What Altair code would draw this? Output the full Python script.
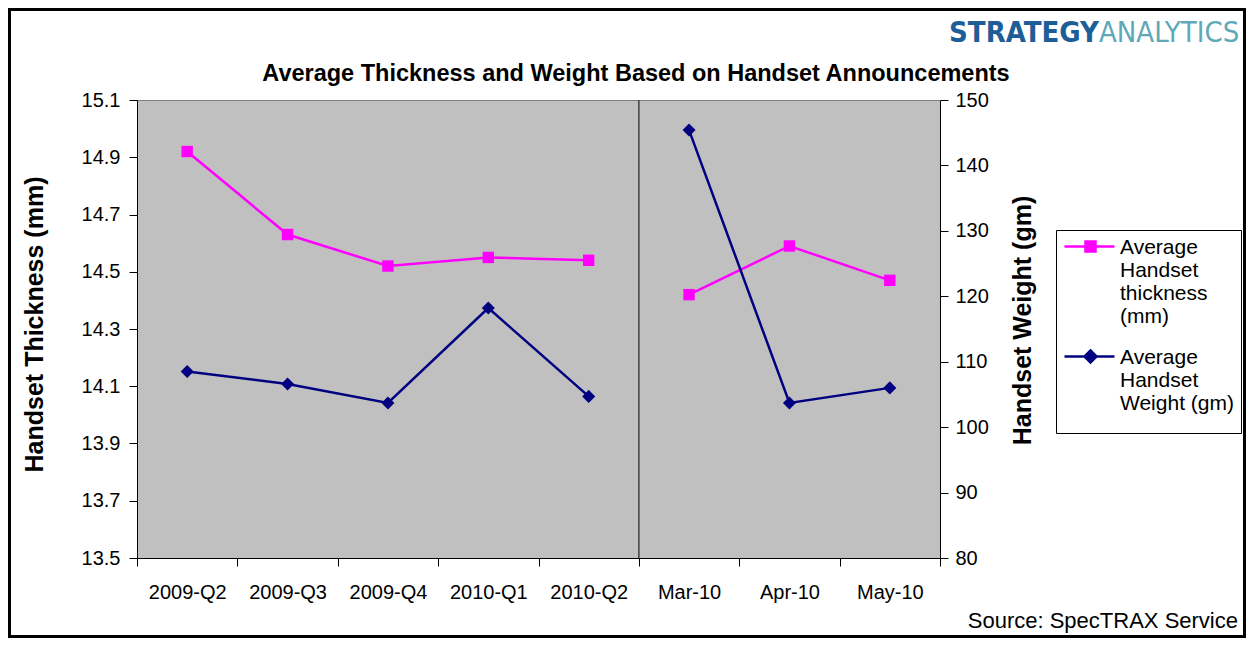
import altair as alt
import pandas as pd

# ---------------- data ----------------
categories = ["2009-Q2", "2009-Q3", "2009-Q4", "2010-Q1", "2010-Q2", "Mar-10", "Apr-10", "May-10"]
periods = ["quarter", "quarter", "quarter", "quarter", "quarter", "month", "month", "month"]
thickness = [14.92, 14.63, 14.52, 14.55, 14.54, 14.42, 14.59, 14.47]
weight = [108.5, 106.6, 103.7, 118.2, 104.7, 145.4, 103.7, 106.0]
series_names = ["Average Handset thickness (mm)", "Average Handset Weight (gm)"]
series_colors = ["#FF00FF", "#000080"]
left_ticks = [13.5, 13.7, 13.9, 14.1, 14.3, 14.5, 14.7, 14.9, 15.1]
right_ticks = [80, 90, 100, 110, 120, 130, 140, 150]
left_title = "Handset Thickness (mm)"
right_title = "Handset Weight (gm)"
chart_title = "Average Thickness and Weight Based on Handset Announcements"
source_text = "Source: SpecTRAX Service"
logo_parts = ["STRATEGY", "ANALYTICS"]
logo_colors = ["#1E5E98", "#5FA8B8"]

FONT = "Arial, Liberation Sans, sans-serif"
NARROW = "Liberation Sans Narrow, Arial Narrow, DejaVu Sans Condensed, sans-serif"
W, H = 803, 458

df_t = pd.DataFrame({"cat": categories, "value": thickness, "period": periods})
df_w = pd.DataFrame({"cat": categories, "value": weight, "period": periods})
df_leg = pd.DataFrame({"series": series_names})

xscale = alt.Scale(type="band", domain=categories, paddingInner=0, paddingOuter=0)
x_axis = alt.Axis(title=None, tickBand="extent", bandPosition=0.5, labelAngle=0,
                  labelAlign="center", labelFontSize=20,
                  labelFont=FONT, labelColor="black", labelPadding=16, tickSize=8,
                  tickColor="black", domainColor="black", grid=False)
x_enc = alt.X("cat:O", sort=categories, scale=xscale, axis=x_axis)

# legend symbols: line with marker, lowered to the first label line
SQ = "M-11,10H39M10,5H20V15H10Z"
DI = "M-11,10H39M15,4L21,10L15,16L9,10Z"
legend = alt.Legend(
    title=None, orient="none", legendX=919, legendY=117, padding=9,
    symbolSize=4, symbolStrokeWidth=2.5, symbolOpacity=1,
    labelFont=FONT, labelFontSize=21, labelColor="black", labelOffset=34, labelLimit=400,
    labelBaseline="top", rowPadding=9,
    labelExpr="datum.label === '" + series_names[0] + "' ? ['Average','Handset','thickness','(mm)'] : ['Average','Handset','Weight (gm)']",
)
leg_layer = alt.Chart(df_leg).mark_point(filled=True, opacity=0, strokeWidth=2.5).encode(
    x=alt.value(0), y=alt.value(0),
    color=alt.Color("series:N", scale=alt.Scale(domain=series_names, range=series_colors), legend=legend),
    stroke=alt.Stroke("series:N", scale=alt.Scale(domain=series_names, range=series_colors), legend=legend),
    shape=alt.Shape("series:N", scale=alt.Scale(domain=series_names, range=[SQ, DI]), legend=legend),
)
# white legend box with black border
leg_box = alt.Chart(pd.DataFrame({"a": [0]})).mark_rect(fill="white", stroke="black", strokeWidth=1).encode(
    x=alt.value(919.5), x2=alt.value(1104.5), y=alt.value(130.5), y2=alt.value(333.5))

yl = alt.Y("value:Q", scale=alt.Scale(domain=[13.5, 15.1], nice=False, zero=False),
           axis=alt.Axis(values=left_ticks, format=".1f", title=left_title, titleFont=FONT,
                         titleFontSize=25, titleFontWeight="bold", titleColor="black",
                         titleAngle=-90, titleBaseline="alphabetic", titleX=-95, titleY=224,
                         labelFontSize=20, labelFont=FONT, labelColor="black", labelPadding=9,
                         tickSize=8, tickColor="black", domainColor="black", grid=False))
yr = alt.Y("value:Q", scale=alt.Scale(domain=[80, 150], nice=False, zero=False),
           axis=alt.Axis(orient="right", values=right_ticks, format="d", title=right_title,
                         titleFont=FONT, titleFontSize=25, titleFontWeight="bold", titleColor="black",
                         titleAngle=-90, titleBaseline="alphabetic", titleX=90, titleY=220,
                         labelFontSize=20, labelFont=FONT, labelColor="black", labelPadding=7,
                         tickSize=8, tickColor="black", domainColor="black", grid=False))

sep = alt.Chart(pd.DataFrame({"cat": [categories[5]]})).mark_rule(color="#404040", strokeWidth=1.5).encode(
    x=alt.X("cat:O", sort=categories, scale=xscale, bandPosition=0, axis=x_axis))

t_line = alt.Chart(df_t).mark_line(strokeWidth=2.5, color=series_colors[0]).encode(x=x_enc, y=yl, detail="period:N")
t_pts = alt.Chart(df_t).mark_point(shape="square", filled=True, size=130, opacity=1,
                                   color=series_colors[0]).encode(x=x_enc, y=yl)
w_line = alt.Chart(df_w).mark_line(strokeWidth=2.5, color=series_colors[1]).encode(x=x_enc, y=yr, detail="period:N")
w_pts = alt.Chart(df_w).mark_point(shape="diamond", filled=True, size=170, opacity=1,
                                   color=series_colors[1]).encode(x=x_enc, y=yr)

left_layer = alt.layer(t_line, sep, t_pts, leg_box, leg_layer)
right_layer = alt.layer(w_line, w_pts)


def text_layer(txt, x, y, size, color="black", weight="normal", align="left", font=FONT):
    return alt.Chart(pd.DataFrame({"t": [txt]})).mark_text(
        align=align, baseline="alphabetic", fontSize=size, fontWeight=weight, color=color, font=font
    ).encode(text="t:N", x=alt.value(x), y=alt.value(y))


title_l = text_layer(chart_title, 499, -19, 23.5, weight="bold", align="center")
source_l = text_layer(source_text, 1101, 528, 22, align="right")
logo1 = text_layer(logo_parts[0], 962, -58, 29, color=logo_colors[0], weight="bold", align="right", font=NARROW)
logo2 = text_layer(logo_parts[1], 962, -58, 29, color=logo_colors[1], weight="normal", align="left", font=NARROW)
frame = alt.Chart(pd.DataFrame({"a": [0]})).mark_rect(fillOpacity=0, stroke="black", strokeWidth=3).encode(
    x=alt.value(-127.5), x2=alt.value(1107.5), y=alt.value(-90.5), y2=alt.value(536.5))

chart = alt.layer(left_layer, right_layer, title_l, source_l, logo1, logo2, frame).resolve_scale(
    y="independent").properties(
    width=W, height=H,
    padding={"left": 129, "top": 92, "right": 306, "bottom": 80},
    autosize=alt.AutoSizeParams(type="none"),
    background="white",
).configure_view(fill="#C0C0C0", stroke="#808080", strokeWidth=1)

chart.save("out.html", embed_options={"renderer": "svg", "actions": False})
